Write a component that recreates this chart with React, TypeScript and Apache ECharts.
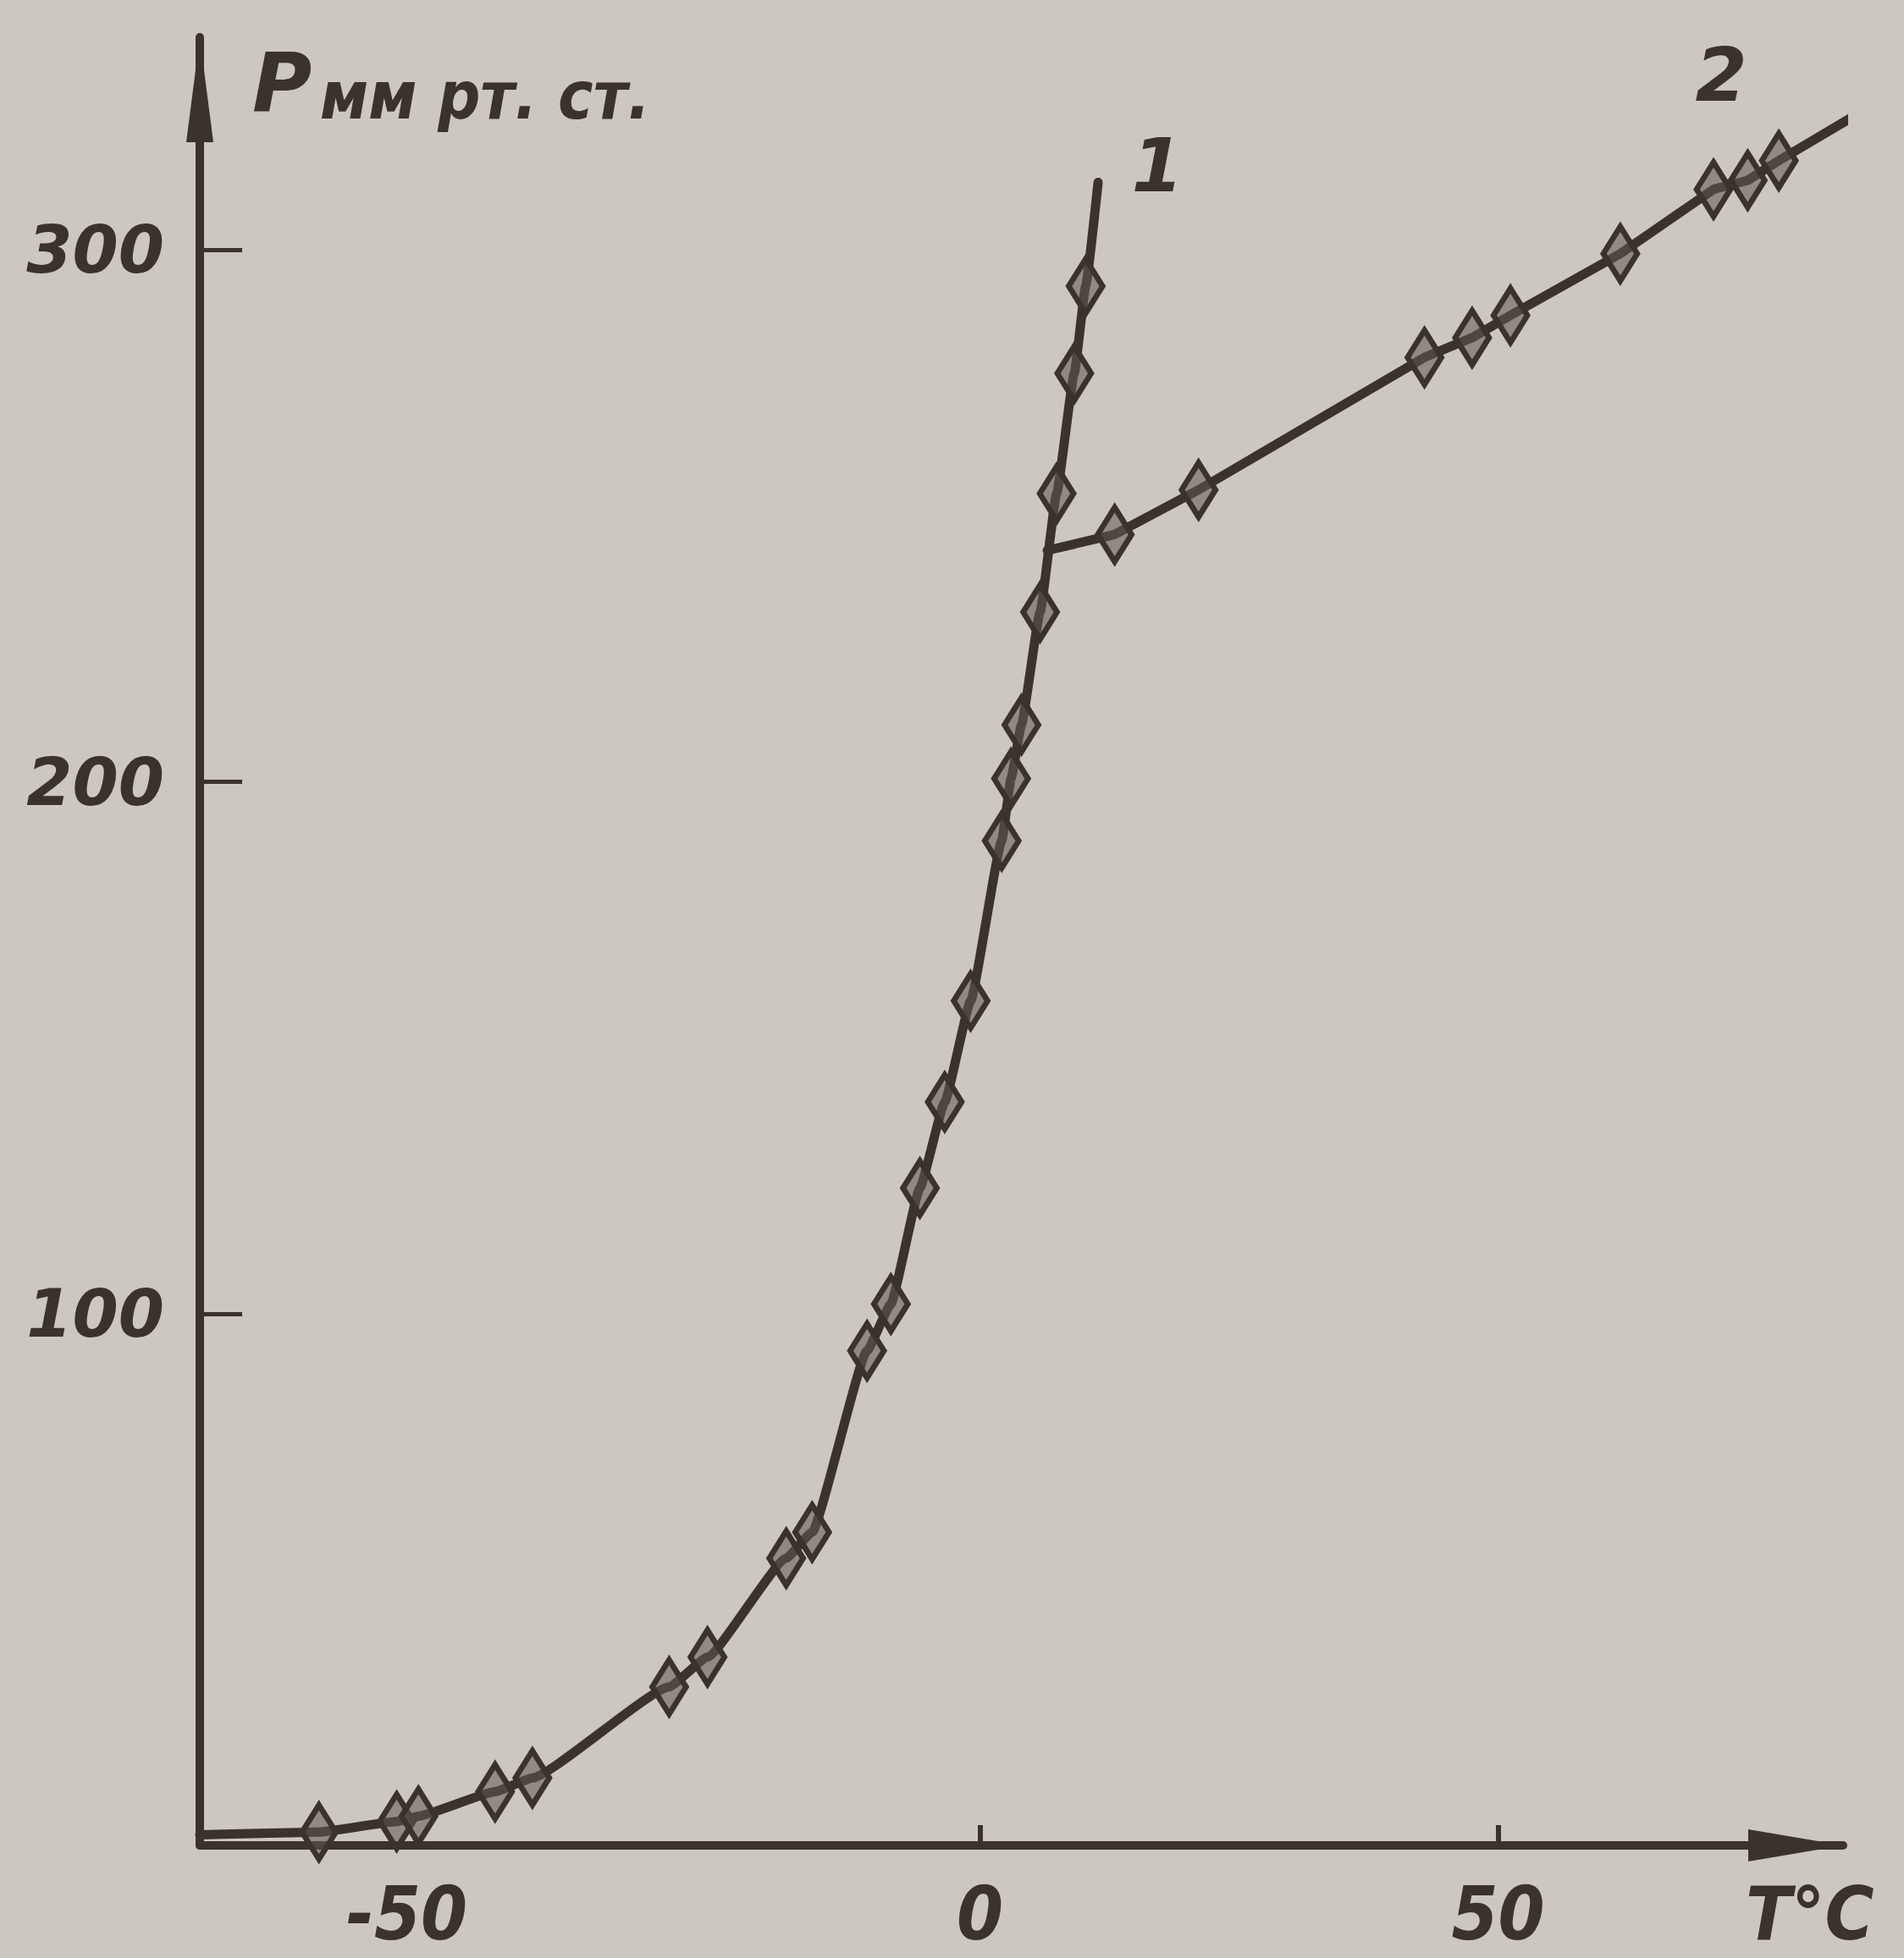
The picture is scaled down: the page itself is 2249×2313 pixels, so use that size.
import React, { useEffect, useRef } from "react";
import * as echarts from "echarts";

// ---- data ----
const xTickValues = [0, 50];
const xLabelValues = [-50, 0, 50];
const yTickValues = [100, 200, 300];

// curve 1 (T °C, P mm Hg); unmarked points are only where the drawn line starts/ends
const curve1T = [-75.3, -63.8, -56.3, -54.2, -46.8, -43.2, -30.0, -26.3, -18.7, -16.2, -10.9, -8.6, -5.8, -3.4, -0.9, 2.1, 3.0, 4.0, 5.8, 7.4, 9.1, 10.2, 11.4];
const curve1P = [2.0, 2.5, 4.5, 5.5, 10.1, 12.7, 29.8, 35.4, 54.0, 58.9, 93.0, 101.8, 123.6, 139.8, 158.8, 188.9, 200.6, 210.7, 231.9, 254.2, 276.8, 293.2, 312.7];
const curve1Marked = [false, true, true, true, true, true, true, true, true, true, true, true, true, true, true, true, true, true, true, true, true, true, false];

// curve 2 branches off curve 1
const curve2T = [6.5, 13.0, 21.1, 42.9, 47.5, 51.2, 61.8, 70.8, 74.1, 77.1, 86.2];
const curve2P = [243.5, 246.5, 254.9, 279.8, 283.5, 287.7, 299.3, 311.4, 313.1, 316.8, 327.3];
const curve2Marked = [false, true, true, true, true, true, true, true, true, true, false];

const X_MIN = -75.3;
const X_MAX = 83.3;
const Y_MIN = 0;
const Y_MAX = 340;

const INK = "#3a332d";
const PAPER = "#cdc8bf";

function build(ts: number[], ps: number[], marked: boolean[]) {
  return ts.map((t, i) => ({ value: [t, ps[i]], symbol: marked[i] ? "diamond" : "none" }));
}

export default function App() {
  const ref = useRef<HTMLDivElement>(null);
  useEffect(() => {
    if (!ref.current) return;
    const chart = echarts.init(ref.current, undefined, { renderer: "svg" });
    const numFont = {
      fontFamily: "DejaVu Sans",
      fontWeight: "bold" as const,
      fontStyle: "italic" as const,
      color: INK,
    };
    const lineSeries = (name: string, data: any[], smooth: number | boolean) => ({
      type: "line",
      name,
      data,
      smooth,
      smoothMonotone: "x",
      clip: false,
      symbolSize: [40, 64],
      lineStyle: { color: INK, width: 11, cap: "round", join: "round" },
      itemStyle: { color: "rgba(95,87,80,0.55)", borderColor: INK, borderWidth: 7 },
      z: 3,
    });
    chart.setOption({
      animation: false,
      backgroundColor: PAPER,
      grid: { left: 236, right: 72, top: 44, bottom: 133, containLabel: false },
      xAxis: {
        type: "value",
        min: X_MIN,
        max: X_MAX,
        splitLine: { show: false },
        axisLine: {
          show: true,
          onZero: false,
          symbol: ["none", "triangle"],
          symbolSize: [38, 112],
          symbolOffset: [0, -56],
          lineStyle: { color: INK, width: 10 },
        },
        axisTick: { show: true, inside: true, length: 24, customValues: xTickValues, lineStyle: { color: INK, width: 6 } },
        axisLabel: {
          customValues: xLabelValues,
          margin: 36,
          ...numFont,
          fontFamily: "DejaVu Sans Condensed, DejaVu Sans",
          fontSize: 88,
          formatter: (v: number) => (v < 0 ? `{neg|${v}}` : `${v}`),
          rich: {
            neg: {
              padding: [0, 130, 0, 0],
              fontFamily: "DejaVu Sans Condensed, DejaVu Sans",
              fontWeight: "bold",
              fontStyle: "italic",
              fontSize: 88,
              color: INK,
            },
          },
        },
      },
      yAxis: {
        type: "value",
        min: Y_MIN,
        max: Y_MAX,
        splitLine: { show: false },
        axisLine: {
          show: true,
          onZero: false,
          symbol: ["none", "triangle"],
          symbolSize: [32, 124],
          symbolOffset: [0, -62],
          lineStyle: { color: INK, width: 10 },
        },
        axisTick: { show: true, inside: true, length: 50, customValues: yTickValues, lineStyle: { color: INK, width: 5 } },
        axisLabel: {
          customValues: yTickValues,
          margin: 42,
          ...numFont,
          fontSize: 78,
        },
      },
      series: [
        lineSeries("1", build(curve1T, curve1P, curve1Marked), 0.12),
        lineSeries("2", build(curve2T, curve2P, curve2Marked), false),
      ],
      graphic: [
        {
          type: "text",
          x: 298,
          y: 50,
          style: { text: "P", fontFamily: "DejaVu Sans", fontWeight: "bold", fontStyle: "italic", fontSize: 96, fill: INK, align: "left", verticalAlign: "top" },
        },
        {
          type: "text",
          x: 378,
          y: 74,
          style: { text: "мм рт. ст.", fontFamily: "DejaVu Sans Condensed, DejaVu Sans", fontWeight: "bold", fontStyle: "italic", fontSize: 78, fill: INK, align: "left", verticalAlign: "top" },
        },
        {
          type: "text",
          x: 2062,
          y: 2216,
          style: { text: "T°C", fontFamily: "DejaVu Sans Condensed, DejaVu Sans", fontWeight: "bold", fontStyle: "italic", fontSize: 88, fill: INK, align: "left", verticalAlign: "top" },
        },
        {
          type: "text",
          x: 1367,
          y: 195,
          style: { text: "1", fontFamily: "DejaVu Sans", fontWeight: "bold", fontStyle: "italic", fontSize: 88, fill: INK, align: "center", verticalAlign: "middle" },
        },
        {
          type: "text",
          x: 2033,
          y: 88,
          style: { text: "2", fontFamily: "DejaVu Sans", fontWeight: "bold", fontStyle: "italic", fontSize: 88, fill: INK, align: "center", verticalAlign: "middle" },
        },
      ],
    });
    return () => chart.dispose();
  }, []);
  return <div ref={ref} style={{ position: "absolute", left: 0, top: 0, width: 2249, height: 2313 }} />;
}
